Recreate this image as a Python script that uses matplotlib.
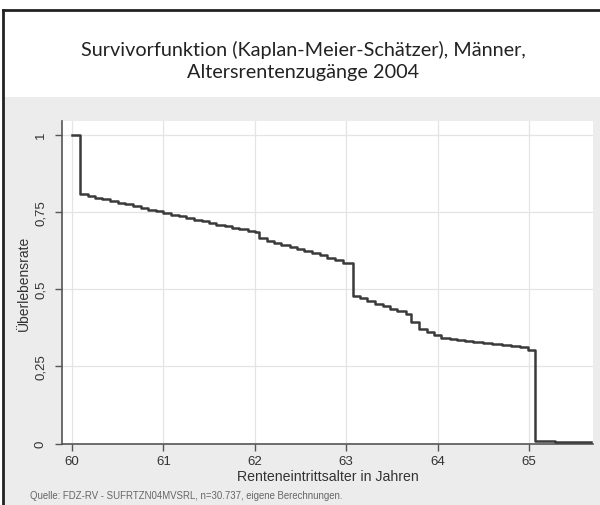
import matplotlib
matplotlib.use("Agg")
import matplotlib.pyplot as plt
from matplotlib.patches import Rectangle
from matplotlib.lines import Line2D

# Data
alter = [60.0, 60.09, 60.17, 60.25, 60.33, 60.42, 60.5, 60.58, 60.67, 60.75, 60.83, 60.92,
         61.0, 61.08, 61.17, 61.25, 61.33, 61.42, 61.5, 61.58, 61.67, 61.75, 61.83, 61.92,
         62.0, 62.05, 62.13, 62.21, 62.29, 62.38, 62.46, 62.54, 62.63, 62.71, 62.79, 62.88, 62.96,
         63.07, 63.15, 63.23, 63.31, 63.4, 63.48, 63.56, 63.65, 63.71, 63.8, 63.88, 63.96,
         64.04, 64.13, 64.21, 64.3, 64.39, 64.5, 64.6, 64.7, 64.8, 64.9, 64.99, 65.07, 65.28, 65.68]
survival = [1.0, 0.807, 0.801, 0.796, 0.790, 0.785, 0.779, 0.774, 0.768, 0.763, 0.757, 0.752,
            0.746, 0.741, 0.736, 0.730, 0.725, 0.720, 0.714, 0.709, 0.704, 0.699, 0.694, 0.689,
            0.684, 0.664, 0.657, 0.650, 0.643, 0.637, 0.631, 0.624, 0.617, 0.609, 0.601, 0.593, 0.585,
            0.479, 0.470, 0.461, 0.452, 0.444, 0.436, 0.428, 0.419, 0.393, 0.371, 0.360, 0.350,
            0.341, 0.337, 0.334, 0.331, 0.328, 0.325, 0.321, 0.318, 0.316, 0.313, 0.302, 0.009, 0.005, 0.005]

x_ticks = [60, 61, 62, 63, 64, 65]
x_ticklabels = ["60", "61", "62", "63", "64", "65"]
y_ticks = [0, 0.25, 0.5, 0.75, 1]
y_ticklabels = ["0", "0,25", "0,5", "0,75", "1"]

title = "Survivorfunktion (Kaplan-Meier-Schätzer), Männer,\nAltersrentenzugänge 2004"
xlabel = "Renteneintrittsalter in Jahren"
ylabel = "Überlebensrate"
source = "Quelle: FDZ-RV - SUFRTZN04MVSRL, n=30.737, eigene Berechnungen."

W, H = 600, 506
fig = plt.figure(figsize=(W / 100, H / 100), dpi=100, facecolor="white")

# gray graph region
fig.patches.append(Rectangle((3 / W, 0), 1 - 3 / W, (H - 98) / H, transform=fig.transFigure,
                             facecolor="#ececec", edgecolor="none", zorder=-5))
# frame lines (top and left)
fig.lines.append(Line2D([3 / W, 1], [1 - 11 / H, 1 - 11 / H], transform=fig.transFigure,
                        color="#222222", lw=2, zorder=-4))
fig.lines.append(Line2D([3 / W, 3 / W], [0, 1 - 11 / H], transform=fig.transFigure,
                        color="#222222", lw=2, zorder=-4))

fig.text(303 / W, 1 - 61 / H, title, ha="center", va="center",
         fontsize=14.3, family="Lato", color="#222222", linespacing=1.3)

ax = fig.add_axes([62 / W, (H - 444.6) / H, 531 / W, (444.6 - 122) / H])
ax.set_facecolor("white")
ax.step(alter, survival, where="post", color="#3a3a3a", lw=1.8, zorder=3)
ax.set_xlim(59.89, 65.70)
ax.set_ylim(0, 1.044)

ax.set_xticks(x_ticks)
ax.set_xticklabels(x_ticklabels)
ax.set_yticks(y_ticks)
ax.set_yticklabels(y_ticklabels, rotation=90, va="center")
ax.grid(True, color="#e4e4e4", lw=0.9)
ax.set_axisbelow(True)

for s in ["top", "right"]:
    ax.spines[s].set_visible(False)
for s in ["left", "bottom"]:
    ax.spines[s].set_color("#555555")
    ax.spines[s].set_linewidth(1.2)
ax.tick_params(axis="both", colors="#555555", length=5, width=1, labelsize=9.5,
               labelcolor="#333333")
ax.tick_params(axis="x", pad=3)
ax.tick_params(axis="y", pad=6)
for lab in ax.get_xticklabels() + ax.get_yticklabels():
    lab.set_family("Liberation Sans")

ax.set_xlabel(xlabel, fontsize=10.2, family="Liberation Sans", color="#333333", labelpad=2)
ax.set_ylabel(ylabel, fontsize=10, family="Liberation Sans", color="#333333", labelpad=3)

fig.text(30 / W, 1 - 496 / H, source, ha="left", va="center", fontsize=6.9,
         family="Liberation Sans", color="#666666")

fig.savefig("out.png", dpi=100, facecolor="white")
